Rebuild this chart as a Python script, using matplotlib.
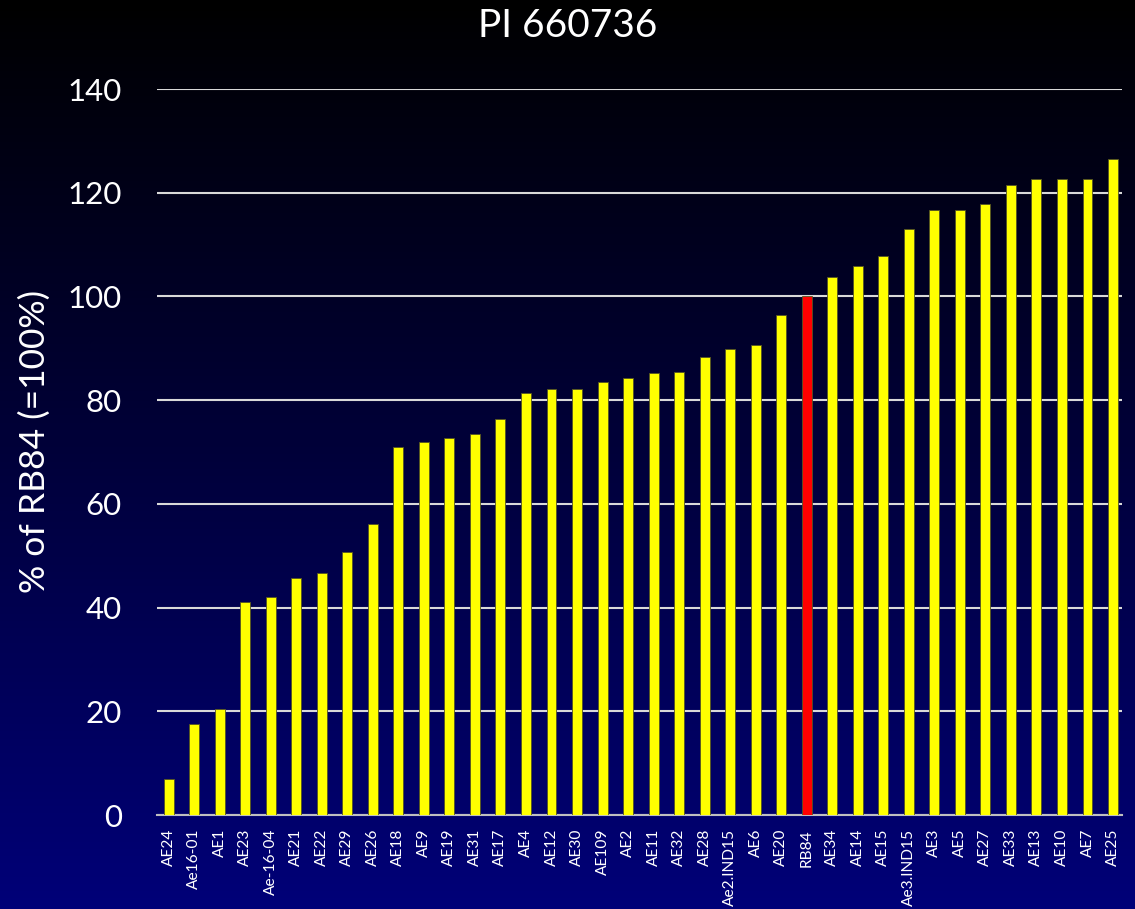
import matplotlib
matplotlib.use("Agg")
import matplotlib.pyplot as plt
import numpy as np
from matplotlib.colors import LinearSegmentedColormap

categories = ["AE24", "Ae16-01", "AE1", "AE23", "Ae-16-04", "AE21", "AE22", "AE29", "AE26",
              "AE18", "AE9", "AE19", "AE31", "AE17", "AE4", "AE12", "AE30", "AE109", "AE2",
              "AE11", "AE32", "AE28", "Ae2.IND15", "AE6", "AE20", "RB84", "AE34", "AE14",
              "AE15", "Ae3.IND15", "AE3", "AE5", "AE27", "AE33", "AE13", "AE10", "AE7", "AE25"]
values = [7.0, 17.5, 20.5, 41.1, 42.1, 45.8, 46.7, 50.7, 56.1,
          70.9, 72.0, 72.7, 73.4, 76.3, 81.3, 82.1, 82.1, 83.6, 84.2,
          85.2, 85.5, 88.4, 89.8, 90.6, 96.5, 100.0, 103.7, 105.9,
          107.9, 113.1, 116.7, 116.7, 117.9, 121.5, 122.6, 122.7, 122.7, 126.6]
reference = "RB84"
yticks = [0, 20, 40, 60, 80, 100, 120, 140]

plt.rcParams['font.family'] = ['Lato', 'DejaVu Sans']

fig = plt.figure(figsize=(11.35, 9.09), dpi=100)

# gradient background
bg = fig.add_axes([0, 0, 1, 1], zorder=0)
cmap = LinearSegmentedColormap.from_list("bg", ["#000000", "#00003a", "#000078"])
grad = np.linspace(0, 1, 256).reshape(-1, 1)
bg.imshow(grad, aspect='auto', cmap=cmap, extent=[0, 1, 0, 1], origin='upper')
bg.set_axis_off()

ax = fig.add_axes([0.138, 0.1034, 0.8505, 0.7986], zorder=1)
ax.set_facecolor('none')

x = np.arange(len(categories))
colors = ['#FF0000' if c == reference else '#FFFF00' for c in categories]
ax.bar(x, values, width=0.39, color=colors, edgecolor='#555522', linewidth=0.6, zorder=3)

ax.set_ylim(0, 140)
ax.set_xlim(-0.47, len(categories) - 1 + 0.35)
ax.set_yticks(yticks)
ax.set_yticklabels([str(t) for t in yticks], fontsize=22.5, color='white')
ax.set_xticks(x)
ax.set_xticklabels(categories, rotation=90, fontsize=11.2, color='white')
ax.tick_params(axis='both', length=0)
ax.tick_params(axis='y', pad=25)
ax.tick_params(axis='x', pad=10)
ax.yaxis.grid(True, color='#D9D9D9', linewidth=1.5, zorder=1)
ax.set_axisbelow(True)
for s in ['top', 'right', 'left']:
    ax.spines[s].set_visible(False)
ax.spines['bottom'].set_color('#BFBFBF')
ax.spines['bottom'].set_linewidth(1.5)

ax.set_ylabel('% of RB84 (=100%)', fontsize=25.5, color='white')
ax.yaxis.set_label_coords(-0.11, 0.515)
fig.text(0.5, 0.971, 'PI 660736', ha='center', va='center', fontsize=28, color='white')

fig.savefig('out.png', dpi=100)
